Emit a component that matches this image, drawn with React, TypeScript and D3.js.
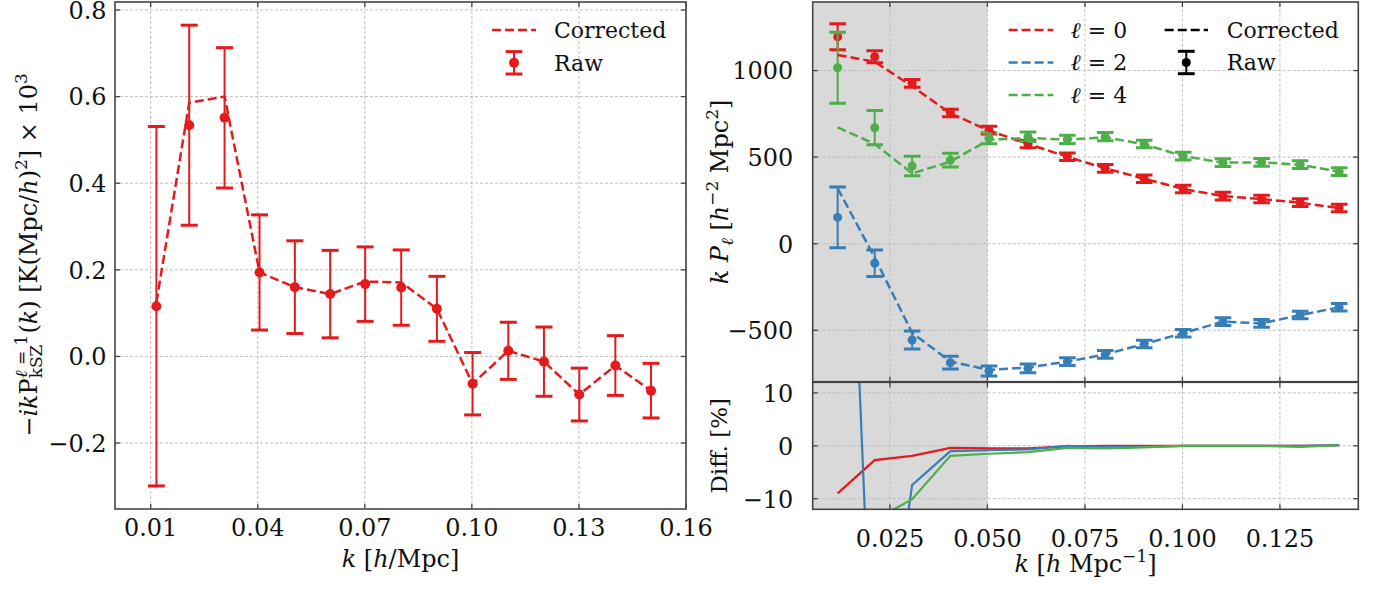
import React from "react";
import * as d3 from "d3";

// ---------- data ----------
const kLeft = [0.0116, 0.0208, 0.0307, 0.0405, 0.0504, 0.0603, 0.0701, 0.0802, 0.0902, 0.1002, 0.1102, 0.1202, 0.1301, 0.1402, 0.1502];
const rawLeft = [0.116, 0.534, 0.551, 0.194, 0.16, 0.144, 0.167, 0.159, 0.11, -0.063, 0.013, -0.012, -0.088, -0.021, -0.079];
const errLeft = [0.415, 0.231, 0.162, 0.133, 0.107, 0.101, 0.086, 0.087, 0.075, 0.072, 0.066, 0.08, 0.061, 0.069, 0.063];
const corrLeft = [0.125, 0.586, 0.6, 0.194, 0.16, 0.144, 0.173, 0.171, 0.11, -0.063, 0.013, -0.012, -0.088, -0.021, -0.079];

const kRight = [0.0116, 0.0211, 0.0307, 0.0405, 0.0504, 0.0604, 0.0705, 0.0802, 0.0902, 0.1002, 0.1104, 0.1203, 0.1302, 0.1402];
const raw0 = [1195, 1080, 926, 755, 656, 576, 502, 435, 375, 316, 275, 258, 237, 206];
const err0 = [75, 35, 23, 22, 22, 22, 22, 22, 22, 22, 22, 22, 22, 22];
const corr0 = [1090, 1051, 909, 753, 653, 576, 502, 435, 375, 316, 275, 258, 237, 206];
const raw2 = [152, -113, -556, -687, -735, -720, -681, -639, -579, -517, -450, -460, -412, -367];
const err2 = [176, 77, 52, 37, 29, 25, 22, 22, 22, 22, 22, 22, 22, 22];
const corr2 = [320, -80, -515, -680, -729, -715, -681, -639, -579, -517, -450, -460, -412, -367];
const raw4 = [1016, 670, 449, 483, 609, 618, 603, 618, 576, 506, 468, 470, 457, 416];
const err4 = [205, 99, 56, 40, 32, 27, 24, 24, 22, 22, 22, 22, 22, 22];
const corr4 = [672, 576, 406, 474, 600, 611, 601, 615, 574, 506, 468, 470, 456, 416];
const diff0 = [-9.0, -2.7, -1.9, -0.4, -0.5, -0.5, -0.1, 0, 0, 0, 0, 0, 0, 0.1];
const diff2 = [110, -57, -7.4, -1.0, -0.8, -0.7, 0, -0.2, -0.2, 0, 0, 0, 0, 0.1];
const diff4 = [-34, -14, -10.1, -1.9, -1.5, -1.2, -0.4, -0.5, -0.3, 0, 0, 0, -0.2, 0.1];

const leftXTicks = [0.01, 0.04, 0.07, 0.1, 0.13, 0.16];
const leftXLabels = ["0.01", "0.04", "0.07", "0.10", "0.13", "0.16"];
const leftYTicks = [-0.2, 0, 0.2, 0.4, 0.6, 0.8];
const leftYLabels = ["\u22120.2", "0.0", "0.2", "0.4", "0.6", "0.8"];
const rightXTicks = [0.025, 0.05, 0.075, 0.1, 0.125];
const rightXLabels = ["0.025", "0.050", "0.075", "0.100", "0.125"];
const rightYTicks = [-500, 0, 500, 1000];
const rightYLabels = ["\u2212500", "0", "500", "1000"];
const diffYTicks = [-10, 0, 10];
const diffYLabels = ["\u221210", "0", "10"];
const legendEll = ["0", "2", "4"];
const shadeEnd = 0.05;

const RED = "#e41a1c";
const BLUE = "#377eb8";
const GREEN = "#4daf4a";
const FONT = "DejaVu Serif Condensed, Liberation Serif, serif";
const SX = 1.11; // widen condensed glyphs to regular DejaVu Serif proportions
const SPINE = "#444";
const GRID = "#b8b8b8";
const INK = "#111";

let canvasCtx: CanvasRenderingContext2D | null = null;
function measure(t: string, size: number, italic = false) {
  if (!canvasCtx) canvasCtx = document.createElement("canvas").getContext("2d");
  if (!canvasCtx) return t.length * size * 0.55;
  canvasCtx.font = `${italic ? "italic " : ""}${size}px "DejaVu Serif Condensed"`;
  return canvasCtx.measureText(t).width;
}

// ---------- scales ----------
const xL = d3.scaleLinear().domain([0, 0.16]).range([115, 686]);
const yL = d3.scaleLinear().domain([-0.3523, 0.8185]).range([509, 2]);
const xR = d3.scaleLinear().domain([0.0052, 0.1451]).range([812.7, 1358.3]);
const yR = d3.scaleLinear().domain([-797, 1396]).range([381.7, 2]);
const yD = d3.scaleLinear().domain([-12, 12]).range([509.3, 382.3]);

type Sc = d3.ScaleLinear<number, number>;

function T({ x, y, rot = false, size = 24, anchor = "start", dy, children }: { x: number; y: number; rot?: boolean; size?: number; anchor?: string; dy?: string; children: React.ReactNode }) {
  return (
    <g transform={`translate(${x},${y})${rot ? " rotate(-90)" : ""} scale(${SX},1)`}>
      <text x={0} y={0} dy={dy} fontSize={size} textAnchor={anchor} fill={INK} style={{ fontFamily: FONT }}>
        {children}
      </text>
    </g>
  );
}

function Frame({ x, y, xTicks, yTicks, tick = 5 }: { x: Sc; y: Sc; xTicks: number[]; yTicks: number[]; tick?: number }) {
  const [x0, x1] = x.range();
  const [y0, y1] = y.range();
  return (
    <g>
      {xTicks.map((t, i) => (
        <g key={"x" + i}>
          <line x1={x(t)} x2={x(t)} y1={y0} y2={y0 - tick} stroke={SPINE} strokeWidth={1.3} />
          <line x1={x(t)} x2={x(t)} y1={y1} y2={y1 + tick} stroke={SPINE} strokeWidth={1.3} />
        </g>
      ))}
      {yTicks.map((t, i) => (
        <g key={"y" + i}>
          <line x1={x0} x2={x0 + tick} y1={y(t)} y2={y(t)} stroke={SPINE} strokeWidth={1.3} />
          <line x1={x1} x2={x1 - tick} y1={y(t)} y2={y(t)} stroke={SPINE} strokeWidth={1.3} />
        </g>
      ))}
      <rect x={x0} y={y1} width={x1 - x0} height={y0 - y1} fill="none" stroke={SPINE} strokeWidth={1.6} />
    </g>
  );
}

function Grid({ x, y, xTicks, yTicks }: { x: Sc; y: Sc; xTicks: number[]; yTicks: number[] }) {
  const [x0, x1] = x.range();
  const [y0, y1] = y.range();
  return (
    <g stroke={GRID} strokeWidth={0.9} strokeDasharray="3,2">
      {xTicks.map((t, i) => (
        <line key={"gx" + i} x1={x(t)} x2={x(t)} y1={y0} y2={y1} />
      ))}
      {yTicks.map((t, i) => (
        <line key={"gy" + i} x1={x0} x2={x1} y1={y(t)} y2={y(t)} />
      ))}
    </g>
  );
}

function ErrBars({ k, v, e, x, y, color, r, cap }: { k: number[]; v: number[]; e: number[]; x: Sc; y: Sc; color: string; r: number; cap: number }) {
  return (
    <g>
      {k.map((kk, i) => {
        const cx = x(kk);
        const top = y(v[i] + e[i]);
        const bot = y(v[i] - e[i]);
        return (
          <g key={i}>
            <line x1={cx} x2={cx} y1={top} y2={bot} stroke={color} strokeWidth={2} />
            <line x1={cx - cap} x2={cx + cap} y1={top} y2={top} stroke={color} strokeWidth={3} />
            <line x1={cx - cap} x2={cx + cap} y1={bot} y2={bot} stroke={color} strokeWidth={3} />
            <circle cx={cx} cy={y(v[i])} r={r} fill={color} />
          </g>
        );
      })}
    </g>
  );
}

function DashLine({ k, v, x, y, color }: { k: number[]; v: number[]; x: Sc; y: Sc; color: string }) {
  const gen = d3.line<number>().x((_, i) => x(k[i])).y((d) => y(d));
  return <path d={gen(v) || ""} fill="none" stroke={color} strokeWidth={2.5} strokeDasharray="9,4" />;
}

function LegendErr({ cx, cy, color, r }: { cx: number; cy: number; color: string; r: number }) {
  return (
    <g>
      <line x1={cx} x2={cx} y1={cy - 11.2} y2={cy + 11.2} stroke={color} strokeWidth={2} />
      <line x1={cx - 8.4} x2={cx + 8.4} y1={cy - 11.2} y2={cy - 11.2} stroke={color} strokeWidth={3} />
      <line x1={cx - 8.4} x2={cx + 8.4} y1={cy + 11.2} y2={cy + 11.2} stroke={color} strokeWidth={3} />
      <circle cx={cx} cy={cy} r={r} fill={color} />
    </g>
  );
}

export default function App() {
  const supFs = 17;
  const supW = measure("\u2113", supFs, true) + measure(" = 1", supFs);
  const subW = measure("kSZ", supFs);
  const afterSub = Math.max(0, supW - subW);
  const diffSeries = [
    { v: diff0, c: RED },
    { v: diff2, c: BLUE },
    { v: diff4, c: GREEN },
  ];
  const legendColors = [RED, BLUE, GREEN];

  return (
    <svg width={1379} height={589} style={{ position: "absolute", left: 0, top: 0, background: "#fff", fontFamily: FONT }}>
      <defs>
        <clipPath id="clipL">
          <rect x={115} y={2} width={571} height={507} />
        </clipPath>
        <clipPath id="clipR">
          <rect x={812.7} y={2} width={545.6} height={379.7} />
        </clipPath>
        <clipPath id="clipD">
          <rect x={812.7} y={382.3} width={545.6} height={127} />
        </clipPath>
      </defs>

      {/* ================= LEFT PANEL ================= */}
      <Grid x={xL} y={yL} xTicks={leftXTicks} yTicks={leftYTicks} />
      <g clipPath="url(#clipL)">
        <ErrBars k={kLeft} v={rawLeft} e={errLeft} x={xL} y={yL} color={RED} r={5} cap={8.5} />
        <DashLine k={kLeft} v={corrLeft} x={xL} y={yL} color={RED} />
      </g>
      <Frame x={xL} y={yL} xTicks={leftXTicks} yTicks={leftYTicks} />
      {leftXTicks.map((t, i) => (
        <T key={"lxl" + i} x={xL(t)} y={536} anchor="middle">
          {leftXLabels[i]}
        </T>
      ))}
      {leftYTicks.map((t, i) => (
        <T key={"lyl" + i} x={106.5} y={yL(t) + 8.8} anchor="end">
          {leftYLabels[i]}
        </T>
      ))}
      <T x={400.5} y={566.5} anchor="middle">
        <tspan fontStyle="italic">k</tspan>
        <tspan> [</tspan>
        <tspan fontStyle="italic">h</tspan>
        <tspan>/Mpc]</tspan>
      </T>
      <T x={36.5} y={255} rot anchor="middle">
        <tspan>{"\u2212"}</tspan>
        <tspan fontStyle="italic">ik</tspan>
        <tspan>P</tspan>
        <tspan fontSize={supFs} dy={-10} fontStyle="italic">{"\u2113"}</tspan>
        <tspan fontSize={supFs}>{" = 1"}</tspan>
        <tspan fontSize={supFs} dx={-supW} dy={15}>kSZ</tspan>
        <tspan dx={afterSub + 1} dy={-5}>(</tspan>
        <tspan fontStyle="italic">k</tspan>
        <tspan>{") [K(Mpc/"}</tspan>
        <tspan fontStyle="italic">h</tspan>
        <tspan>)</tspan>
        <tspan fontSize={supFs} dy={-10}>2</tspan>
        <tspan dy={10}>{"] \u00d7 10"}</tspan>
        <tspan fontSize={supFs} dy={-10}>3</tspan>
      </T>
      {/* left legend */}
      <line x1={492} x2={536} y1={30} y2={30} stroke={RED} strokeWidth={2.5} strokeDasharray="9,4" />
      <T x={554} y={30} dy="0.36em" size={22}>Corrected</T>
      <LegendErr cx={514} cy={62.8} color={RED} r={5} />
      <T x={554} y={63} dy="0.36em" size={22}>Raw</T>

      {/* ================= RIGHT TOP PANEL ================= */}
      <rect x={xR.range()[0]} y={2} width={xR(shadeEnd) - xR.range()[0]} height={379.7} fill="#d9d9d9" />
      <rect x={xR.range()[0]} y={382.3} width={xR(shadeEnd) - xR.range()[0]} height={127} fill="#d9d9d9" />
      <Grid x={xR} y={yR} xTicks={rightXTicks} yTicks={rightYTicks} />
      <g clipPath="url(#clipR)">
        <ErrBars k={kRight} v={raw0} e={err0} x={xR} y={yR} color={RED} r={4.5} cap={8.3} />
        <ErrBars k={kRight} v={raw2} e={err2} x={xR} y={yR} color={BLUE} r={4.5} cap={8.3} />
        <ErrBars k={kRight} v={raw4} e={err4} x={xR} y={yR} color={GREEN} r={4.5} cap={8.3} />
        <DashLine k={kRight} v={corr0} x={xR} y={yR} color={RED} />
        <DashLine k={kRight} v={corr2} x={xR} y={yR} color={BLUE} />
        <DashLine k={kRight} v={corr4} x={xR} y={yR} color={GREEN} />
      </g>
      <Frame x={xR} y={yR} xTicks={rightXTicks} yTicks={rightYTicks} />
      {rightYTicks.map((t, i) => (
        <T key={"ryl" + i} x={793.3} y={yR(t) + 8.8} anchor="end">
          {rightYLabels[i]}
        </T>
      ))}
      <T x={728} y={192} rot anchor="middle">
        <tspan fontStyle="italic">k</tspan>
        <tspan> </tspan>
        <tspan fontStyle="italic">P</tspan>
        <tspan fontSize={supFs} dy={5} fontStyle="italic">{"\u2113"}</tspan>
        <tspan dy={-5}> [</tspan>
        <tspan fontStyle="italic">h</tspan>
        <tspan fontSize={supFs} dy={-10}>{"\u22122"}</tspan>
        <tspan dy={10}> Mpc</tspan>
        <tspan fontSize={supFs} dy={-10}>2</tspan>
        <tspan dy={10}>]</tspan>
      </T>
      {/* right legend */}
      {legendEll.map((l, i) => (
        <g key={"rl" + i}>
          <line x1={1008.6} x2={1053.3} y1={30 + i * 32.5} y2={30 + i * 32.5} stroke={legendColors[i]} strokeWidth={2.5} strokeDasharray="9,4" />
          <T x={1070.6} y={30 + i * 32.5} dy="0.36em" size={22}>
            <tspan fontStyle="italic">{"\u2113"}</tspan>
            <tspan>{" = " + l}</tspan>
          </T>
        </g>
      ))}
      <line x1={1164.7} x2={1208} y1={30} y2={30} stroke="#000" strokeWidth={2.5} strokeDasharray="9,4" />
      <T x={1226.7} y={30} dy="0.36em" size={22}>Corrected</T>
      <LegendErr cx={1186.3} cy={62.5} color="#000" r={4.5} />
      <T x={1226.7} y={62.5} dy="0.36em" size={22}>Raw</T>

      {/* ================= RIGHT DIFF PANEL ================= */}
      <Grid x={xR} y={yD} xTicks={rightXTicks} yTicks={diffYTicks} />
      <g clipPath="url(#clipD)" fill="none" strokeWidth={2.2}>
        {diffSeries.map((s, i) => (
          <path key={"d" + i} d={d3.line<number>().x((_, j) => xR(kRight[j])).y((d) => yD(d))(s.v) || ""} stroke={s.c} />
        ))}
      </g>
      <Frame x={xR} y={yD} xTicks={rightXTicks} yTicks={diffYTicks} />
      {diffYTicks.map((t, i) => (
        <T key={"dyl" + i} x={793.3} y={yD(t) + 8.8} anchor="end">
          {diffYLabels[i]}
        </T>
      ))}
      {rightXTicks.map((t, i) => (
        <T key={"rxl" + i} x={xR(t)} y={546.5} anchor="middle">
          {rightXLabels[i]}
        </T>
      ))}
      <T x={727} y={445.8} rot anchor="middle" size={23}>
        Diff. [%]
      </T>
      <T x={1085.5} y={572} anchor="middle">
        <tspan fontStyle="italic">k</tspan>
        <tspan> [</tspan>
        <tspan fontStyle="italic">h</tspan>
        <tspan> Mpc</tspan>
        <tspan fontSize={supFs} dy={-10}>{"\u22121"}</tspan>
        <tspan dy={10}>]</tspan>
      </T>
    </svg>
  );
}
